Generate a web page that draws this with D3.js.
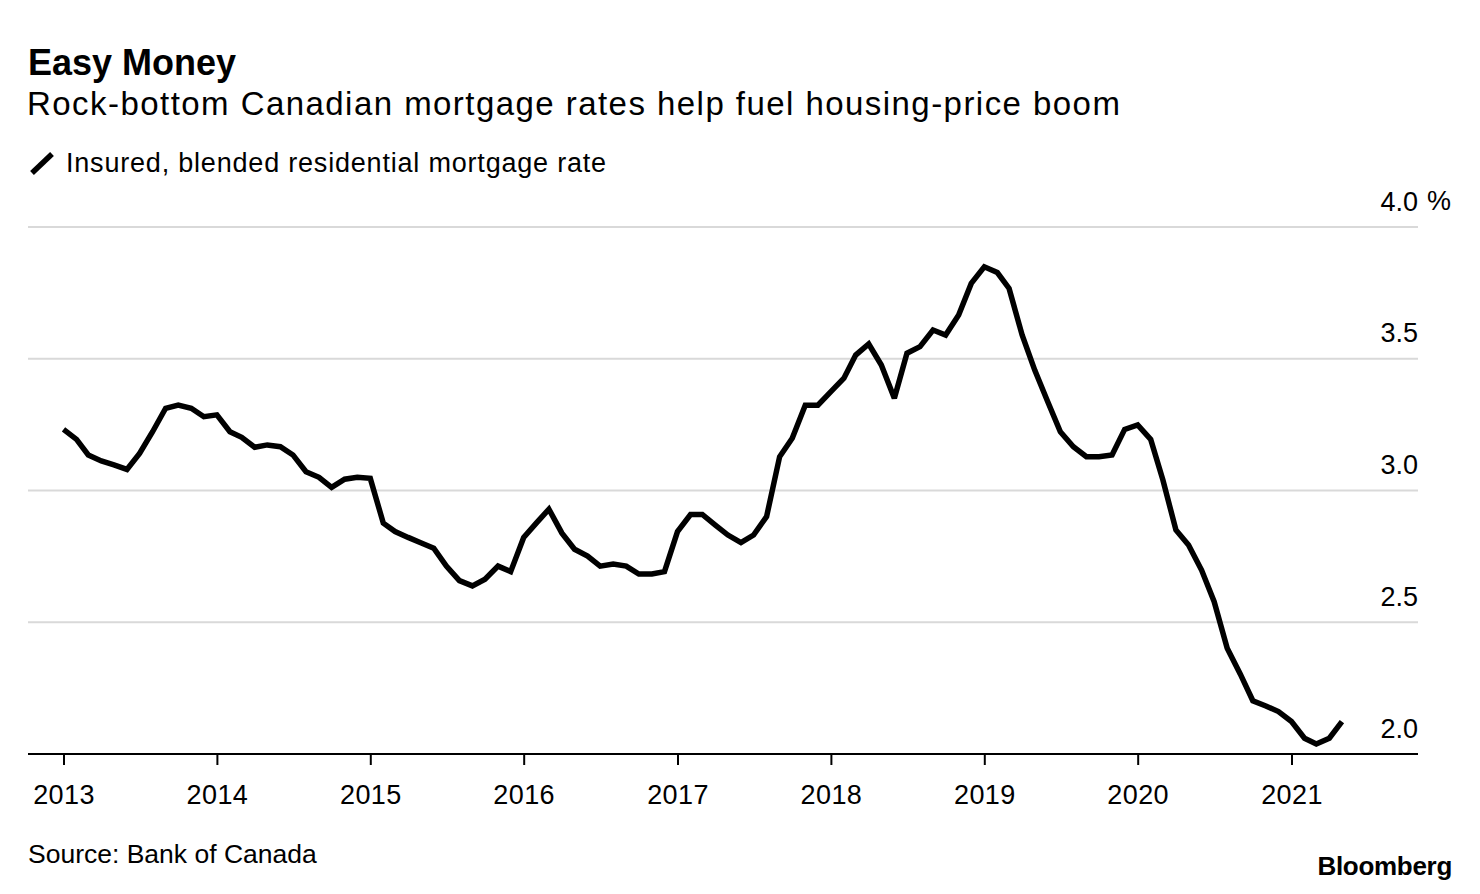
<!DOCTYPE html>
<html>
<head>
<meta charset="utf-8">
<script src="https://cdn.jsdelivr.net/npm/d3@7"></script>
<style>
  html, body { margin: 0; padding: 0; background: #fff; }
  svg text { font-family: "Liberation Sans", Arial, Helvetica, sans-serif; fill: #000; }
</style>
</head>
<body>
<svg id="chart" width="1480" height="894"></svg>
<script>
// ---------------- DATA ----------------
const titleText = "Easy Money";
const subtitleText = "Rock-bottom Canadian mortgage rates help fuel housing-price boom";
const legendLabel = "Insured, blended residential mortgage rate";
const sourceText = "Source: Bank of Canada";
const logoText = "Bloomberg";

const months = [
  "2013-01","2013-02","2013-03","2013-04","2013-05","2013-06","2013-07","2013-08","2013-09","2013-10","2013-11","2013-12",
  "2014-01","2014-02","2014-03","2014-04","2014-05","2014-06","2014-07","2014-08","2014-09","2014-10","2014-11","2014-12",
  "2015-01","2015-02","2015-03","2015-04","2015-05","2015-06","2015-07","2015-08","2015-09","2015-10","2015-11","2015-12",
  "2016-01","2016-02","2016-03","2016-04","2016-05","2016-06","2016-07","2016-08","2016-09","2016-10","2016-11","2016-12",
  "2017-01","2017-02","2017-03","2017-04","2017-05","2017-06","2017-07","2017-08","2017-09","2017-10","2017-11","2017-12",
  "2018-01","2018-02","2018-03","2018-04","2018-05","2018-06","2018-07","2018-08","2018-09","2018-10","2018-11","2018-12",
  "2019-01","2019-02","2019-03","2019-04","2019-05","2019-06","2019-07","2019-08","2019-09","2019-10","2019-11","2019-12",
  "2020-01","2020-02","2020-03","2020-04","2020-05","2020-06","2020-07","2020-08","2020-09","2020-10","2020-11","2020-12",
  "2021-01","2021-02","2021-03","2021-04","2021-05"
];

const rates = [
  3.232,3.194,3.135,3.112,3.097,3.080,3.141,3.223,3.312,3.324,3.312,3.280,
  3.287,3.223,3.202,3.164,3.173,3.166,3.135,3.071,3.050,3.012,3.043,3.050,
  3.046,2.876,2.844,2.822,2.802,2.781,2.713,2.658,2.638,2.663,2.713,2.692,
  2.822,2.878,2.929,2.838,2.777,2.751,2.713,2.721,2.713,2.683,2.683,2.692,
  2.844,2.909,2.909,2.869,2.831,2.802,2.831,2.901,3.128,3.198,3.324,3.324,
  3.375,3.426,3.514,3.556,3.476,3.350,3.521,3.546,3.609,3.590,3.666,3.786,
  3.849,3.827,3.767,3.590,3.457,3.337,3.223,3.166,3.128,3.128,3.135,3.232,
  3.249,3.194,3.040,2.850,2.793,2.698,2.578,2.401,2.304,2.202,2.182,2.161,
  2.123,2.060,2.038,2.060,2.123
];

const yTicks = [2.0, 2.5, 3.0, 3.5, 4.0];
const yTickLabels = ["2.0", "2.5", "3.0", "3.5", "4.0"];
const yUnit = "%";
const xTickDates = ["2013-01","2014-01","2015-01","2016-01","2017-01","2018-01","2019-01","2020-01","2021-01"];
const xTickLabels = ["2013","2014","2015","2016","2017","2018","2019","2020","2021"];

// ---------------- LAYOUT ----------------
const plotLeft = 28, plotRight = 1418;
const parse = d3.timeParse("%Y-%m");
const data = months.map((m, i) => ({ date: parse(m), v: rates[i] }));

const svg = d3.select("#chart");
svg.append("rect").attr("width", 1480).attr("height", 894).attr("fill", "#fff");

const x = d3.scaleTime()
  .domain([parse(xTickDates[0]), parse(xTickDates[xTickDates.length - 1])])
  .range([63.5, 1291.5]);
const y = d3.scaleLinear().domain([2.0, 4.0]).range([754, 227]);

// Header
svg.append("text").attr("x", 28).attr("y", 75)
  .attr("font-size", 36).attr("font-weight", "bold").text(titleText);
svg.append("text").attr("x", 27).attr("y", 115)
  .attr("font-size", 33).attr("letter-spacing", 1.45).text(subtitleText);

// Legend
svg.append("line").attr("x1", 32).attr("y1", 173).attr("x2", 52).attr("y2", 154)
  .attr("stroke", "#000").attr("stroke-width", 5.5);
svg.append("text").attr("x", 66).attr("y", 172)
  .attr("font-size", 27).attr("letter-spacing", 0.8).text(legendLabel);

// Gridlines
svg.append("g").selectAll("line")
  .data(yTicks.filter(t => t !== y.domain()[0]))
  .join("line")
  .attr("x1", plotLeft).attr("x2", plotRight)
  .attr("y1", d => y(d)).attr("y2", d => y(d))
  .attr("stroke", "#d9d9d9").attr("stroke-width", 2);

// Y axis labels (right side, above gridlines)
const yAxis = d3.axisLeft(y).tickValues(yTicks).tickSize(0)
  .tickFormat((d, i) => yTickLabels[i]);
const yG = svg.append("g").attr("transform", `translate(${plotRight},0)`).call(yAxis);
yG.select(".domain").remove();
yG.selectAll("text")
  .attr("x", 0).attr("y", -17).attr("dy", 0)
  .attr("text-anchor", "end")
  .attr("font-size", 27)
  .attr("font-family", "Liberation Sans, Arial, sans-serif")
  .attr("fill", "#000");
svg.append("text").attr("x", plotRight + 9).attr("y", y(4.0) - 17)
  .attr("font-size", 27).text(yUnit);

// X axis
const xAxis = d3.axisBottom(x).tickValues(xTickDates.map(parse)).tickSize(11)
  .tickFormat((d, i) => xTickLabels[i]);
const xG = svg.append("g").attr("transform", `translate(0,${y(2.0)})`).call(xAxis);
xG.select(".domain").remove();
xG.selectAll(".tick line").attr("stroke", "#000").attr("stroke-width", 2);
xG.selectAll("text")
  .attr("y", 50).attr("dy", 0)
  .attr("font-size", 27).attr("letter-spacing", 0.4)
  .attr("font-family", "Liberation Sans, Arial, sans-serif")
  .attr("fill", "#000");
svg.append("line")
  .attr("x1", plotLeft).attr("x2", plotRight)
  .attr("y1", y(2.0)).attr("y2", y(2.0))
  .attr("stroke", "#000").attr("stroke-width", 2);

// Line
const line = d3.line().x(d => x(d.date)).y(d => y(d.v));
svg.append("path").datum(data)
  .attr("d", line)
  .attr("fill", "none")
  .attr("stroke", "#000")
  .attr("stroke-width", 5.5)
  .attr("stroke-linejoin", "miter")
  .attr("stroke-miterlimit", 3);

// Footer
svg.append("text").attr("x", 28).attr("y", 863)
  .attr("font-size", 26.5).text(sourceText);
svg.append("text").attr("x", 1452).attr("y", 875)
  .attr("text-anchor", "end")
  .attr("font-size", 26).attr("font-weight", "bold").attr("letter-spacing", -0.3)
  .text(logoText);
</script>
</body>
</html>
